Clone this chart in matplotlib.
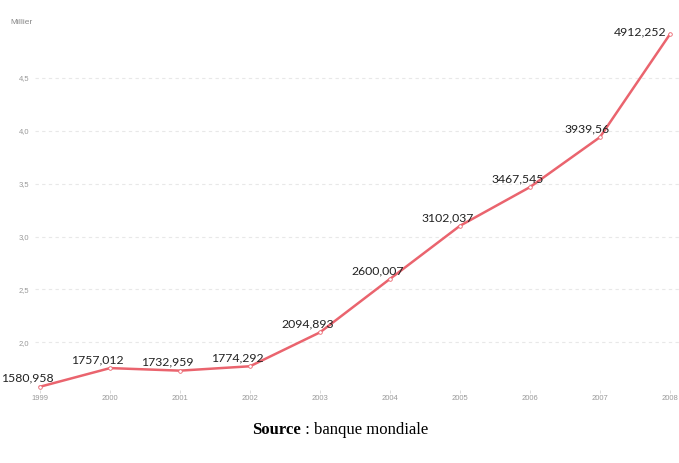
import matplotlib
matplotlib.use('Agg')
import matplotlib.pyplot as plt

# valeurs
years = [1999, 2000, 2001, 2002, 2003, 2004, 2005, 2006, 2007, 2008]
values = [1580.958, 1757.012, 1732.959, 1774.292, 2094.893,
          2600.007, 3102.037, 3467.545, 3939.56, 4912.252]
labels = ['1580,958', '1757,012', '1732,959', '1774,292', '2094,893',
          '2600,007', '3102,037', '3467,545', '3939,56', '4912,252']
yticks = [2.0, 2.5, 3.0, 3.5, 4.0, 4.5]

fig = plt.figure(figsize=(6.79, 4.63), dpi=100)
ax = fig.add_axes([35 / 679, 73 / 463, 644 / 679, 365 / 463])

y = [v / 1000 for v in values]
ax.plot(years, y, color='#ea646e', lw=1.8, marker='o', ms=2.6,
        mfc='white', mec='#ea646e', mew=0.6, zorder=3)

for i, (xx, yy, lab) in enumerate(zip(years, y, labels)):
    if i == len(years) - 1:
        # dernier label collé à gauche du point
        ax.annotate(lab, (xx, yy), xytext=(-2.5, 2), textcoords='offset points',
                    ha='right', va='center', fontsize=8.8, family='Lato',
                    color='#222222')
    else:
        ax.annotate(lab, (xx, yy), xytext=(-9, 6), textcoords='offset points',
                    ha='center', va='center', fontsize=8.8, family='Lato',
                    color='#222222')

ax.set_xlim(1998.928, 2008.13)
ax.set_ylim(1.55, 5.0)
ax.set_xticks(years)
ax.set_xticklabels([str(v) for v in years])
ax.set_yticks(yticks)
ax.set_yticklabels([f'{v:.1f}'.replace('.', ',') for v in yticks])
ax.tick_params(axis='x', colors='#cccccc', labelsize=5.5, length=2,
               width=0.5, pad=1.5, labelcolor='#999999')
ax.tick_params(axis='y', length=0, labelsize=5.5, labelcolor='#999999', pad=4)
for lbl in ax.get_xticklabels() + ax.get_yticklabels():
    lbl.set_family('Liberation Sans')
ax.grid(axis='y', linestyle=(0, (3, 3)), color='#e8e8e8', lw=0.8)
ax.set_axisbelow(True)
for s in ax.spines.values():
    s.set_visible(False)

fig.text(10 / 679, 1 - 22 / 463, 'Millier', fontsize=6, color='#888888',
         family='Liberation Sans', va='center')

fig.text(301 / 679, 1 - 430 / 463, 'Source', fontsize=12,
         family='Liberation Serif', weight='bold', ha='right', va='center')
fig.text(301 / 679, 1 - 430 / 463, ' : banque mondiale', fontsize=12,
         family='Liberation Serif', ha='left', va='center')

fig.savefig('out.png', dpi=100)
